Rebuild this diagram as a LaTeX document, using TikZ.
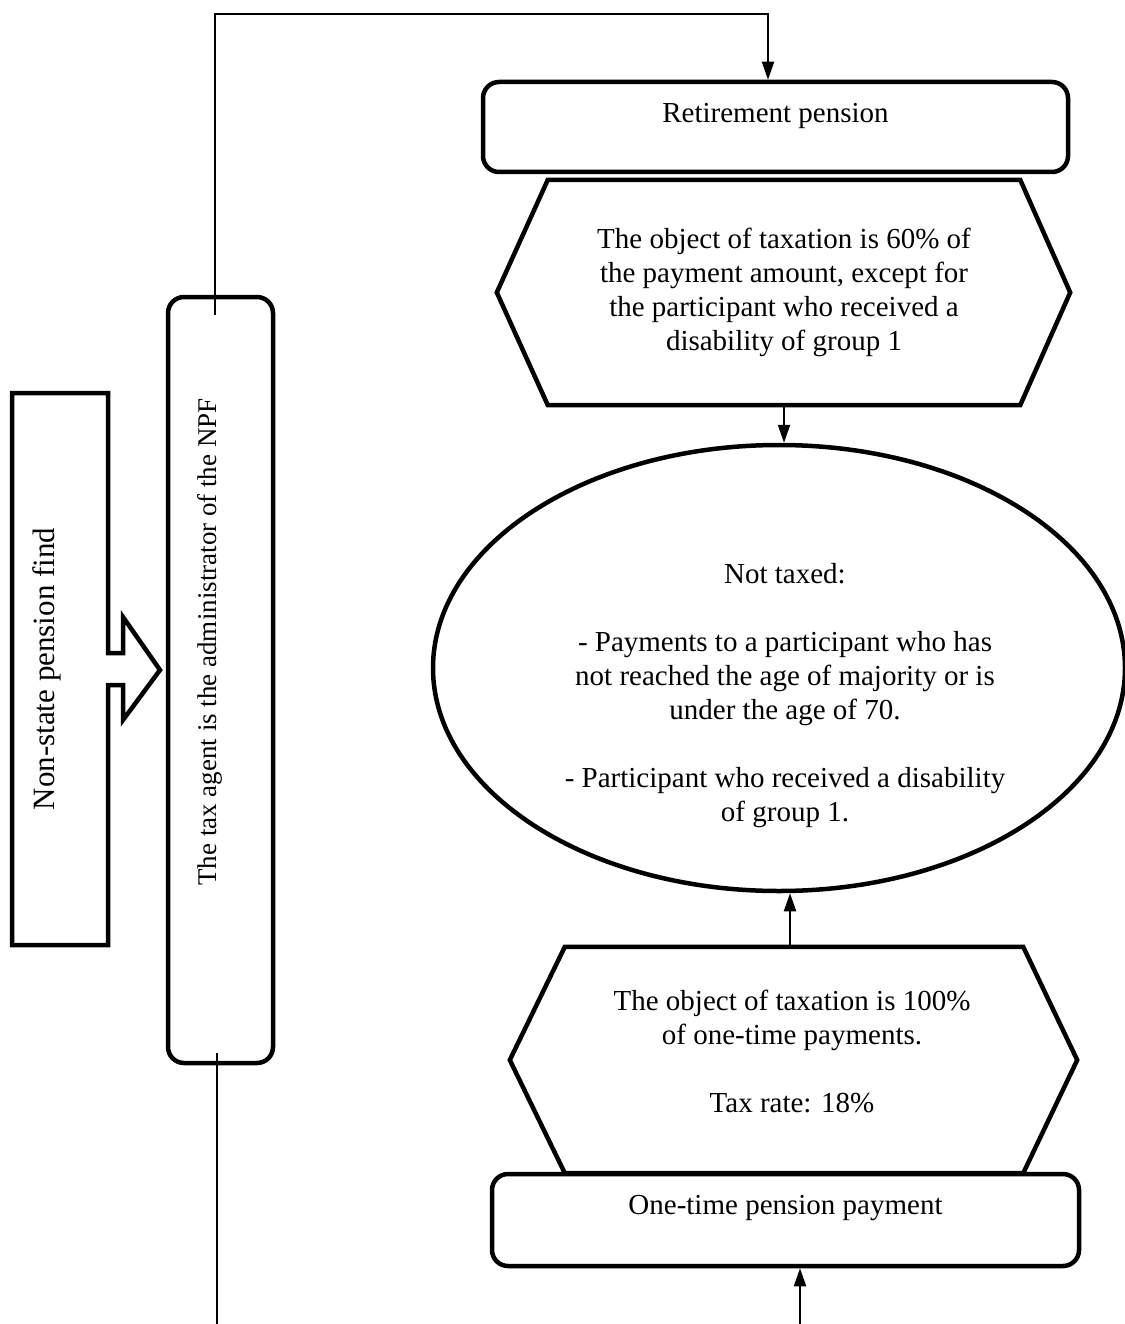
\documentclass[tikz,border=0pt]{standalone}
\usepackage{fontspec}
\setmainfont{Liberation Serif}
\usetikzlibrary{arrows.meta,shapes.geometric}
\begin{document}
\begin{tikzpicture}[x=1pt,y=-1pt,
  font=\fontsize{29}{34}\selectfont,
  box/.style={draw,line width=4.5pt,rounded corners=16pt,inner sep=0pt,fill=white},
  hexbox/.style={inner sep=0pt,align=center},
  hexline/.style={line width=4.5pt,line join=miter},
  conn/.style={line width=2pt},
  arr/.style={conn,-{Triangle[length=18pt,width=12pt]}},
  txt/.style={align=center,inner sep=0pt}]
\useasboundingbox (0,0) rectangle (1124,1324);
\fill[white] (0,0) rectangle (1124,1324);

% Non-state pension fund block arrow
\draw[hexline] (12,393) -- (108,393) -- (108,653) -- (123,653) -- (123,617)
  -- (160,670) -- (123,720) -- (123,685) -- (108,685) -- (108,945) -- (12,945) -- cycle;
\node[txt,rotate=90,font=\fontsize{31}{36}\selectfont] (nsp) at (47,669) {Non-state pension find};

% tax agent box
\node[box,minimum width=105pt,minimum height=766pt] (tax) at (220.5,680) {};
\node[txt,rotate=90,font=\fontsize{27}{32}\selectfont] (taxtext) at (210,642) {The tax agent is the administrator of the NPF};

% Retirement pension
\node[box,minimum width=585pt,minimum height=90pt] (ret) at (775.5,127) {};
\node[txt] (rettext) at (775.5,116) {Retirement pension};

% hexagon 1
\node[hexbox,minimum width=472pt,minimum height=225pt] (h1) at (784,292.5)
  {The object of taxation is 60\% of\\the payment amount, except for\\the participant who received a\\disability of group 1};
\draw[hexline] (h1.north west) -- (h1.north east) -- ([xshift=50pt]h1.east)
  -- (h1.south east) -- (h1.south west) -- ([xshift=-51pt]h1.west) -- cycle;

% ellipse
\node[ellipse,draw,line width=4.5pt,minimum width=692pt,minimum height=446pt,inner sep=0pt] (ell) at (779,668) {};
\node[txt] (elltext) at (785,696) {Not taxed:\\[34pt]
  - Payments to a participant who has\\not reached the age of majority or is\\under the age of 70.\\[34pt]
  - Participant who received a disability\\of group 1.};

% hexagon 2
\node[hexbox,minimum width=458pt,minimum height=226pt] (h2) at (794,1060) {};
\draw[hexline] (h2.north west) -- (h2.north east) -- ([xshift=54pt]h2.east)
  -- (h2.south east) -- (h2.south west) -- ([xshift=-55pt]h2.west) -- cycle;
\node[txt] (h2text) at (792,1051) {The object of taxation is 100\%\\of one-time payments.\\[34pt]Tax rate: 18\%};

% One-time pension payment
\node[box,minimum width=587pt,minimum height=92pt] (one) at (785.5,1220) {};
\node[txt] (onetext) at (785.5,1208) {One-time pension payment};

% connectors
\coordinate (c1) at (215,315);
\coordinate (t1) at (215,14);
\coordinate (t2) at (768,14);
\draw[arr] (c1) -- (t1) -- (t2) -- (t2 |- ret.north);
\draw[arr] (h1.south) -- (h1.south |- ell.north);
\coordinate (a2) at (790,947);
\draw[arr] (a2) -- (a2 |- ell.south);
\coordinate (c2) at (217,1053);
\coordinate (b1) at (217,1324);
\draw[conn] (c2) -- (b1);
\coordinate (b2) at (800,1324);
\draw[arr] (b2) -- (b2 |- one.south);
\end{tikzpicture}
\end{document}
